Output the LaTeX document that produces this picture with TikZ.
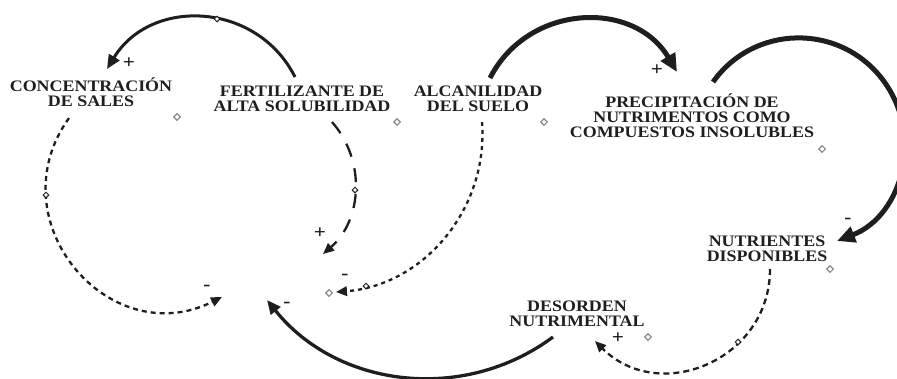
\documentclass[tikz,border=0pt]{standalone}
\usepackage{fontspec}
\setmainfont[FakeStretch=1.12]{Liberation Serif}
\usetikzlibrary{arrows.meta,shapes.geometric}
\definecolor{ink}{HTML}{1E1E1E}
\definecolor{marker}{HTML}{8A8A8A}
\begin{document}
\begin{tikzpicture}[x=1pt,y=-1pt,
  var/.style={align=center, inner sep=0pt, text=ink,
    font=\fontsize{16}{15}\selectfont\bfseries},
  sign/.style={inner sep=0pt, text=ink, font=\fontsize{19}{19}\selectfont\bfseries},
  lblmark/.style={diamond, draw=marker, line width=1.1pt, minimum size=7pt, inner sep=0pt},
  ctrl/.style={diamond, draw=ink, fill=white, line width=1pt, minimum size=6pt, inner sep=0pt},
  thinhead/.style={-{Triangle[length=11pt,width=9.5pt]}},
  link/.style={draw=ink, line width=3pt, -{Triangle[length=14pt,width=12pt]}},
  biglink/.style={draw=ink, line width=5pt, -{Triangle[length=18pt,width=16pt]}},
  shortdash/.style={draw=ink, line width=2.3pt, dash pattern=on 5pt off 4pt, thinhead},
  longdash/.style={draw=ink, line width=2.3pt, dash pattern=on 14pt off 12pt, thinhead}
]
\useasboundingbox (0,0) rectangle (897,378);

% variables
\node[var] (conc) at (91,92) {CONCENTRACIÓN\\DE SALES};
\node[var] (fert) at (302,98.5) {FERTILIZANTE DE\\ALTA SOLUBILIDAD};
\node[var] (alca) at (478,98.5) {ALCANILIDAD\\DEL SUELO};
\node[var] (prec) at (692,116) {PRECIPITACIÓN DE\\NUTRIMENTOS COMO\\COMPUESTOS INSOLUBLES};
\node[var] (nutr) at (767,248.5) {NUTRIENTES\\DISPONIBLES};
\node[var] (deso) at (577,313.5) {DESORDEN\\NUTRIMENTAL};

% label markers
\node[lblmark] (mconc) at (177,117) {};
\node[lblmark] (mfert) at (397,122) {};
\node[lblmark] (malca) at (544,122) {};
\node[lblmark] (mprec) at (822,149) {};
\node[lblmark] (mnutr) at (830,269) {};
\node[lblmark] (mdeso) at (648,337) {};
\node[lblmark] (mhub) at (329,293) {};

% connector end points
\coordinate (fertA) at (295,77);   \coordinate (concA) at (107,69);
\coordinate (concB) at (69,118);   \coordinate (hubB) at (222,297);
\coordinate (fertC) at (332,122);  \coordinate (hubC) at (323,254);
\coordinate (alcaD) at (482,122);  \coordinate (hubD) at (336,292);
\coordinate (alcaE) at (490,78);   \coordinate (precE) at (677,72);
\coordinate (precF) at (713,82);   \coordinate (nutrF) at (837,241);
\coordinate (nutrG) at (770,269);  \coordinate (desoG) at (595,341);
\coordinate (desoH) at (553,337);  \coordinate (hubH) at (267,300);

% connectors
\draw[link] (fertA) .. controls (257,1.5) and (151,-3) .. (concA);
\draw[shortdash] (concB) .. controls (-4.5,220.7) and (109,353.6) .. (hubB);
\draw[longdash] (fertC) .. controls (366.1,160.8) and (362.1,220.2) .. (hubC);
\draw[shortdash, dash pattern=on 4pt off 4pt] (alcaD) .. controls (488.6,209.3) and (423.2,285.4) .. (hubD);
\draw[biglink] (alcaE) .. controls (528.4,3.1) and (634.1,-0.5) .. (precE);
\draw[biglink] (precF) .. controls (753.8,24.6) and (838.6,23) .. (881.8,78.5)
   .. controls (925,134) and (902.6,215.5) .. (nutrF);
\draw[shortdash, dash pattern=on 6pt off 4pt] (nutrG) .. controls (770,360) and (659.3,405.3) .. (desoG);
\draw[link, line width=3.3pt] (desoH) .. controls (463.1,403.7) and (336.9,387.4) .. (hubH);

% control point markers
\node[ctrl] (cA) at (217,19) {};
\node[ctrl] (cB) at (46,195) {};
\node[ctrl] (cC) at (355,190) {};
\node[ctrl] (cD) at (366,286) {};
\node[ctrl] (cG) at (738,342) {};

% polarities
\node[sign] (sA) at (129,63) {+};
\node[sign] (sB) at (207,288) {-};
\node[sign] (sC) at (320,233) {+};
\node[sign] (sD) at (345,277) {-};
\node[sign] (sE) at (657,70) {+};
\node[sign] (sF) at (848,221) {-};
\node[sign] (sG) at (618,338) {+};
\node[sign] (sH) at (287,305) {-};
\end{tikzpicture}
\end{document}
